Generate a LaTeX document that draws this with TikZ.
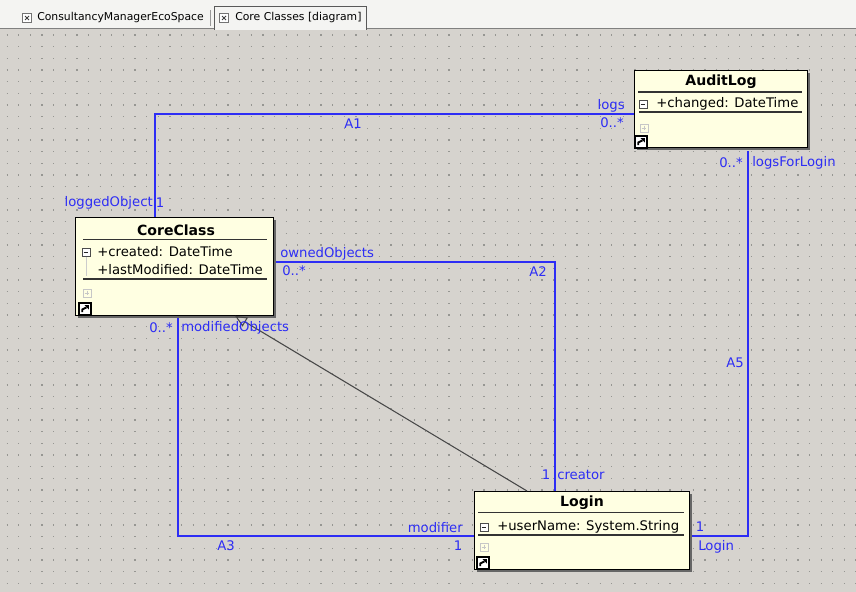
\documentclass[tikz,border=0pt]{standalone}
\usepackage{fontspec}
\setmainfont{DejaVu Sans}
\usetikzlibrary{arrows.meta,positioning,calc,backgrounds,shadows}
\definecolor{canvas}{RGB}{214,211,206}
\definecolor{tabbar}{RGB}{244,244,242}
\definecolor{assocblue}{RGB}{45,45,245}
\definecolor{classfill}{RGB}{255,255,226}
\definecolor{gridgray}{RGB}{150,150,146}
\tikzset{
  cls/.style   ={draw,line width=0.6pt,fill=classfill,anchor=north west,inner sep=0pt,
                 drop shadow={shadow xshift=0.07cm,shadow yshift=-0.07cm,fill=black!60,opacity=1}},
  ctitle/.style={font=\fontsize{10}{12}\selectfont\bfseries,inner sep=0pt},
  attr/.style  ={font=\fontsize{9.4}{11}\selectfont,anchor=west,inner sep=0pt},
  rlab/.style  ={font=\fontsize{9.4}{11}\selectfont,text=assocblue,inner sep=0pt},
  tabtext/.style={font=\fontsize{7.7}{9}\selectfont,anchor=west,inner sep=0pt},
  assoc/.style ={draw=assocblue,line width=0.75pt},
  gen/.style   ={draw=black!72,line width=0.75pt,-{Triangle[open,length=0.3cm,width=0.26cm]}},
  sep/.style   ={draw=black!80,line width=1pt},
  griddots/.style={draw=gridgray,line width=0.9pt,dash pattern=on 0.9pt off 7.37pt},
  minbox/.pic  ={\draw[black!70,line width=0.5pt,fill=white] (-4,-4) rectangle (4,4);
                 \draw[black!85,line width=0.6pt] (-2.3,0) -- (2.3,0);},
  plusbox/.pic ={\draw[black!22,line width=0.5pt] (-4,-4) rectangle (4,4);
                 \draw[black!22,line width=0.5pt] (-2.3,0) -- (2.3,0) (0,-2.3) -- (0,2.3);},
  linkicon/.pic={\draw[black,line width=1.1pt,fill=white] (-6,-6) rectangle (6,6);
                 \fill[black] (-0.5,-3.8) -- (3.8,-3.8) -- (3.8,0.5) -- cycle;
                 \draw[black,line width=1.3pt] (-2.8,3) -- (-2.8,0.5) -- (1.5,-1.6);},
  closex/.pic  ={\draw[black!55,line width=0.5pt,fill=white] (-4.5,-4.5) rectangle (4.5,4.5);
                 \draw[black!75,line width=0.7pt] (-2,-2) -- (2,2) (-2,2) -- (2,-2);},
}

\begin{document}
\begin{tikzpicture}[x=0.025cm,y=-0.025cm]
\useasboundingbox (0,0) rectangle (856,592);

\begin{scope}[on background layer]
\fill[tabbar] (0,0) rectangle (856,28);
\fill[canvas] (0,28) rectangle (856,592);
\foreach \j in {0,...,47}
  \draw[griddots] (6.5,35+11.667*\j) -- (856,35+11.667*\j);
\draw[black!50,line width=1.4pt] (0,28.5) -- (856,28.5);
\draw[black!40,line width=0.5pt] (210,10) -- (210,26);
\draw[black!65,line width=0.7pt,fill=tabbar] (214,29.5) |- (366,6) -- (366,29.5);
\end{scope}

\pic at (27,18) {closex};
\node[tabtext] (tabeco) at (37,18) {ConsultancyManagerEcoSpace};
\pic[line width=1pt] at (224,18) {closex};
\node[tabtext] (tabcore) at (235,18) {Core Classes [diagram]};

\node[cls,minimum width=4.325cm,minimum height=1.925cm] (audit) at (634,70) {};
\node[ctitle] (auditT) at (721,82) {AuditLog};
\draw[sep] (638,92) -- (802,92);
\pic at (643,104) {minbox};
\node[attr] (auditA1) at (656,104) {+changed: DateTime};
\draw[sep] (639,112) -- (802,112);
\pic at (644,128) {plusbox};
\pic at (641,142) {linkicon};

\node[cls,minimum width=4.95cm,minimum height=2.45cm] (core) at (75,217) {};
\node[ctitle] (coreT) at (176,230) {CoreClass};
\draw[sep] (83,239.5) -- (267,239.5);
\pic at (86,252) {minbox};
\node[attr] (coreA1) at (97,252) {+created: DateTime};
\draw[black!20,line width=0.6pt] (86,257) -- (86,276);
\node[attr] (coreA2) at (97,270) {+lastModified: DateTime};
\draw[sep] (83,279) -- (267,279);
\pic at (87,293) {plusbox};
\pic at (85,309) {linkicon};

\node[cls,minimum width=5.375cm,minimum height=1.95cm] (login) at (474,491) {};
\node[ctitle] (loginT) at (582,503) {Login};
\draw[sep] (478,512.5) -- (684,512.5);
\pic at (484,527) {minbox};
\node[attr] (loginA1) at (497,527) {+userName: System.String};
\draw[sep] (478,535) -- (684,535);
\pic at (484,547) {plusbox};
\pic at (483,563) {linkicon};

\begin{scope}[on background layer]
\draw[assoc] ($(core.north west)+(80,0)$) |- ($(audit.north west)+(0,44)$);
\draw[assoc] ($(core.north east)+(0,45)$) -| ($(login.north west)+(81,0)$);
\draw[assoc] ($(core.south west)+(103,0)$) |- ($(login.north west)+(0,45)$);
\draw[assoc] ($(audit.south west)+(114,3)$) |- ($(login.north east)+(0,45)$);
\end{scope}
\draw[gen] ($(login.north west)+(53,0)$) -- ($(core.south west)+(160,0)$);

\node[rlab,anchor=east] (lLogs) at (625,106) {logs};
\node[rlab,anchor=east] (lLogsM) at (624,123) {0..*};
\node[rlab] (lA1) at (353,124) {A1};
\node[rlab,anchor=east] (lLogged) at (153,203) {loggedObject};
\node[rlab] (lLoggedM) at (160,203) {1};
\node[rlab,anchor=west] (lOwned) at (280,254) {ownedObjects};
\node[rlab,anchor=west] (lOwnedM) at (282,271) {0..*};
\node[rlab] (lA2) at (538,272) {A2};
\node[rlab,anchor=east] (lModM) at (173,328) {0..*};
\node[rlab,anchor=west] (lModObj) at (181,328) {modifiedObjects};
\node[rlab] (lCreatorM) at (546,475) {1};
\node[rlab,anchor=west] (lCreator) at (557,475) {creator};
\node[rlab,anchor=east] (lModifier) at (463,528) {modifier};
\node[rlab] (lModifierM) at (458,546) {1};
\node[rlab] (lA3) at (226,546) {A3};
\node[rlab] (lA5) at (735,363) {A5};
\node[rlab,anchor=east] (lLogsFLM) at (743,163) {0..*};
\node[rlab,anchor=west] (lLogsFL) at (752,163) {logsForLogin};
\node[rlab] (lLoginM) at (700,527) {1};
\node[rlab,anchor=west] (lLogin) at (698,547) {Login};
\end{tikzpicture}
\end{document}
